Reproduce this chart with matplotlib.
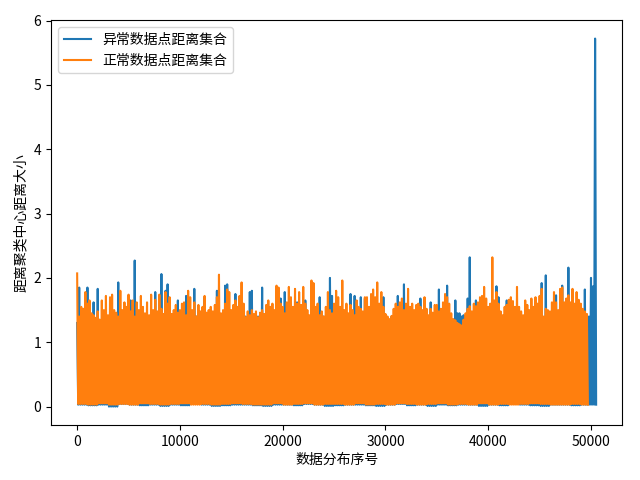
import numpy as np
import matplotlib
matplotlib.use('Agg')
import matplotlib.pyplot as plt

plt.rcParams['font.family'] = ['Noto Sans CJK SC', 'DejaVu Sans']
plt.rcParams['axes.unicode_minus'] = False

# upper envelope, one reading per 200 samples
abnormal_high = [
    1.3, 1.85, 1.4, 1.3, 1.35, 1.85, 1.4, 1.3, 1.62, 1.3, 1.83, 1.35, 1.3, 1.4, 1.3, 1.35, 1.3, 1.4, 1.3, 1.35, 1.93, 1.4, 1.3, 1.35, 1.3,
    1.35, 1.65, 1.2, 2.27, 1.3, 1.35, 1.3, 1.4, 1.3, 1.35, 1.3, 1.4, 1.3, 1.78, 1.35, 1.3, 2.06, 1.4, 1.8, 1.9, 1.35, 1.3, 1.4, 1.3, 1.65,
    1.3, 1.35, 1.3, 1.72, 1.4, 1.3, 1.35, 1.83, 1.4, 1.3, 1.35, 1.3, 1.70, 1.3, 1.35, 1.4, 1.3, 1.35, 1.8, 1.3, 1.35, 1.3, 1.88, 1.90, 1.4,
    1.3, 1.35, 1.75, 1.4, 1.3, 1.35, 1.3, 1.4, 1.3, 1.78, 1.8, 1.35, 1.3, 1.4, 1.3, 1.85, 1.35, 1.3, 1.4, 1.3, 1.35, 1.3, 1.4, 1.3, 1.68,
    1.35, 1.78, 1.3, 1.4, 1.3, 1.35, 1.3, 1.62, 1.35, 1.3, 1.4, 1.65, 1.3, 1.35, 1.3, 1.4, 1.3, 1.35, 1.70, 1.3, 1.4, 1.35, 1.3, 2.0, 1.72,
    1.35, 1.3, 1.4, 1.3, 1.35, 1.3, 1.4, 1.3, 1.75, 1.35, 1.72, 1.3, 1.4, 1.70, 1.3, 1.68, 1.35, 1.3, 1.4, 1.3, 1.35, 1.3, 1.4, 1.3, 1.70,
    1.3, 1.35, 1.3, 1.4, 1.3, 1.35, 1.72, 1.3, 1.4, 1.9, 1.35, 1.3, 1.4, 1.3, 1.35, 1.3, 1.4, 1.68, 1.3, 1.35, 1.3, 1.4, 1.62, 1.35, 1.3,
    1.4, 1.82, 1.3, 1.35, 1.3, 1.88, 1.4, 1.3, 1.35, 1.65, 1.45, 1.45, 1.40, 1.42, 1.4, 1.68, 2.32, 1.35, 1.4, 1.65, 1.3, 1.35, 1.3, 1.4, 1.3,
    1.35, 1.3, 1.4, 1.3, 1.87, 1.70, 1.35, 1.3, 1.4, 1.65, 1.3, 1.35, 1.3, 1.4, 1.3, 1.35, 1.3, 1.4, 1.3, 1.35, 1.3, 1.4, 1.3, 1.35, 1.3,
    1.4, 1.92, 1.35, 2.04, 1.3, 1.4, 1.3, 1.35, 1.73, 1.3, 1.4, 1.88, 1.35, 1.3, 2.16, 1.4, 1.3, 1.35, 1.3, 1.4, 1.3, 1.35, 1.82, 1.3, 1.4,
    2.0, 1.87, 5.72,
]
normal_high = [
    2.07, 1.40, 1.55, 1.52, 1.78, 1.60, 1.65, 1.45, 1.42, 1.38, 1.48, 1.35, 1.65, 1.50, 1.72, 1.42, 1.70, 1.74, 1.50, 1.46, 1.40, 1.80, 1.50, 1.62, 1.55,
    1.74, 1.48, 1.65, 1.40, 1.62, 1.50, 1.72, 1.55, 1.45, 1.62, 1.42, 1.74, 1.50, 1.66, 1.48, 1.74, 1.52, 1.44, 1.78, 1.60, 1.70, 1.44, 1.50, 1.58, 1.46,
    1.50, 1.60, 1.62, 1.42, 1.80, 1.70, 1.50, 1.62, 1.40, 1.58, 1.48, 1.55, 1.72, 1.46, 1.50, 1.55, 1.48, 1.58, 1.70, 2.05, 1.45, 1.50, 1.60, 1.82, 1.78,
    1.50, 1.58, 1.65, 1.55, 1.72, 1.93, 1.60, 1.39, 1.48, 1.42, 1.50, 1.44, 1.48, 1.39, 1.46, 1.50, 1.44, 1.58, 1.65, 1.55, 1.60, 1.50, 1.88, 1.85, 1.60,
    1.55, 1.45, 1.62, 1.86, 1.70, 1.55, 1.83, 1.60, 1.78, 1.58, 1.86, 1.60, 1.50, 1.42, 1.96, 1.92, 1.55, 1.60, 1.42, 1.48, 1.40, 1.55, 1.78, 1.50, 1.45,
    1.60, 1.80, 1.70, 1.55, 1.96, 1.50, 1.60, 1.45, 1.58, 1.50, 1.42, 1.65, 1.55, 1.52, 1.48, 1.70, 1.70, 1.55, 1.75, 1.82, 1.70, 1.93, 1.60, 1.78, 1.55,
    1.44, 1.40, 1.36, 1.41, 1.52, 1.60, 1.55, 1.62, 1.68, 1.50, 1.60, 1.83, 1.55, 1.60, 1.50, 1.58, 1.60, 1.55, 1.50, 1.70, 1.52, 1.42, 1.52, 1.46, 1.58,
    1.58, 1.48, 1.52, 1.62, 1.75, 1.70, 1.60, 1.45, 1.36, 1.34, 1.30, 1.28, 1.26, 1.35, 1.45, 1.52, 1.56, 1.48, 1.60, 1.56, 1.62, 1.70, 1.72, 1.86, 1.68,
    1.55, 1.60, 2.32, 1.65, 1.78, 1.60, 1.48, 1.42, 1.55, 1.58, 1.66, 1.70, 1.64, 1.55, 1.86, 1.55, 1.48, 1.42, 1.65, 1.58, 1.50, 1.68, 1.55, 1.70, 1.60,
    1.72, 1.83, 1.40, 1.52, 1.50, 1.48, 1.62, 1.78, 1.62, 1.50, 1.83, 1.85, 1.62, 1.68, 1.73, 1.62, 1.83, 1.60, 1.78, 1.66, 1.60, 1.52, 1.48, 1.44,
]
# lower envelope, one reading per 1000 samples
abnormal_low = [
    0.03, 0.02, 0.03, 0.0, 0.04, 0.03, 0.02, 0.03, 0.01, 0.03, 0.02, 0.04, 0.03, 0.01, 0.02, 0.03, 0.03, 0.02, 0.01,
    0.03, 0.03, 0.02, 0.04, 0.03, 0.01, 0.02, 0.03, 0.03, 0.02, 0.01, 0.03, 0.04, 0.02, 0.03, 0.01, 0.03, 0.02, 0.03,
    0.03, 0.01, 0.03, 0.02, 0.04, 0.03, 0.02, 0.01, 0.03, 0.03, 0.02, 0.03, 0.03,
]
normal_low = [
    0.04, 0.03, 0.05, 0.03, 0.04, 0.03, 0.05, 0.04, 0.03, 0.04, 0.05, 0.03, 0.04, 0.03, 0.04, 0.05, 0.04, 0.03, 0.03,
    0.05, 0.03, 0.04, 0.05, 0.03, 0.04, 0.04, 0.03, 0.05, 0.03, 0.04, 0.03, 0.05, 0.04, 0.03, 0.04, 0.05, 0.03, 0.04,
    0.03, 0.05, 0.03, 0.04, 0.03, 0.04, 0.05, 0.04, 0.03, 0.03, 0.04, 0.03,
]
label_abnormal = '异常数据点距离集合'
label_normal = '正常数据点距离集合'


def zigzag(high, low):
    y = np.empty(len(high) * 2)
    y[0::2] = high
    y[1::2] = np.repeat(low, 5)[:len(high)]
    return y


y1 = zigzag(abnormal_high, abnormal_low)
y2 = zigzag(normal_high, normal_low)

fig, ax = plt.subplots(figsize=(6.4, 4.8), dpi=100)
ax.plot(np.arange(len(y1)) * 100, y1, label=label_abnormal)
ax.plot(np.arange(len(y2)) * 100, y2, label=label_normal)
ax.set_xlabel('数据分布序号', labelpad=3)
ax.set_ylabel('距离聚类中心距离大小', labelpad=4)
ax.legend(loc='upper left')
fig.subplots_adjust(left=0.08, right=0.972, top=0.958, bottom=0.1146)
fig.savefig('out.png')
